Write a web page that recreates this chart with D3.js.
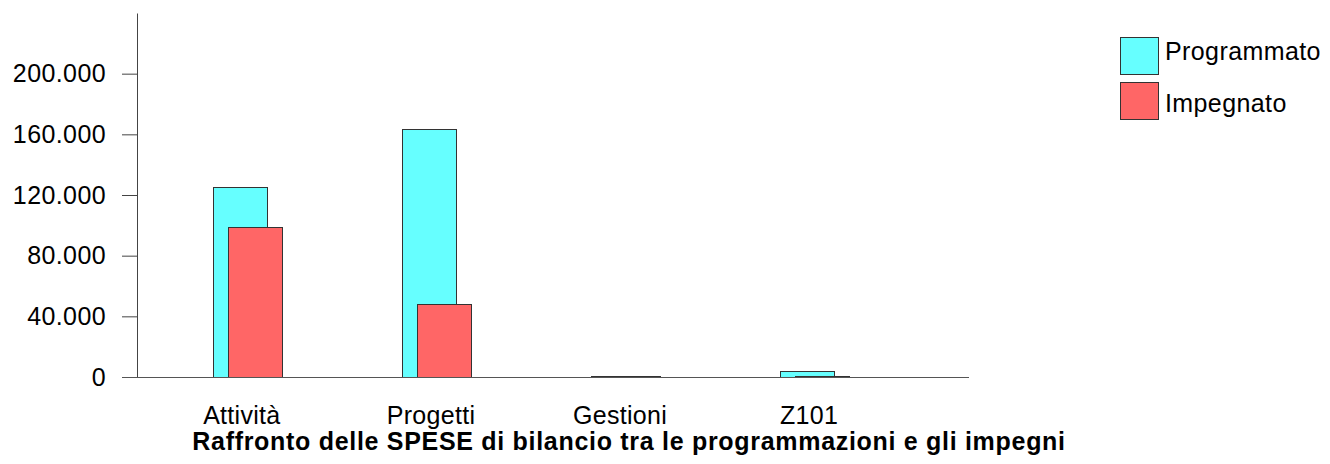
<!DOCTYPE html>
<html>
<head>
<meta charset="utf-8">
<script src="https://cdn.jsdelivr.net/npm/d3@7"></script>
<style>
  body { margin: 0; background: #fff; }
  text { font-family: "Liberation Sans", Arial, sans-serif; fill: #000; }
</style>
</head>
<body>
<div id="chart"></div>
<script>
// categories and values
const categories = ["Attività", "Progetti", "Gestioni", "Z101"]
const programmato = [125400, 163500, 300, 3800]
const impegnato = [99200, 48400, 200, 150]
const yTicks = [0, 40000, 80000, 120000, 160000, 200000]
const seriesNames = ["Programmato", "Impegnato"]
const seriesColors = ["#66ffff", "#ff6666"]

;(function () {
  const margin = { top: 13, right: 361, bottom: 87, left: 137 }
  const width = 1330 - margin.left - margin.right
  const height = 464 - margin.top - margin.bottom

  const svg = d3.select("#chart").append("svg")
      .attr("width", width + margin.left + margin.right)
      .attr("height", height + margin.top + margin.bottom)

  const g = svg.append("g")
      .attr("transform", "translate(" + margin.left + "," + margin.top + ")")

  // italian number format: 200.000
  const it = d3.formatLocale({ decimal: ",", thousands: ".", grouping: [3], currency: ["€", ""] })
  const fmt = it.format(",d")

  const xPositionScale = d3.scaleBand()
    .domain(categories)
    .range([0, width])
    .paddingInner(0)
    .paddingOuter(0.2)
    .align(0.11)

  const yPositionScale = d3.scaleLinear()
    .domain([0, 240000])
    .range([height, 0])

  const barWidth = xPositionScale.step() * 0.286
  const shift = xPositionScale.step() * 0.08

  const rows = categories.map((c, i) => ({ cat: c, values: [programmato[i], impegnato[i]] }))

  // y axis
  const yAxis = d3.axisLeft(yPositionScale)
    .tickValues(yTicks)
    .tickFormat(fmt)
    .tickSizeInner(15)
    .tickSizeOuter(0)
    .tickPadding(16)
  const ya = g.append("g")
    .attr("class", "axis y-axis")
    .call(yAxis)
  ya.selectAll("line, path").attr("stroke", "#444")
  ya.selectAll("text")
    .style("font-size", "25px")
    .style("letter-spacing", "0.4px")
    .style("font-family", "'Liberation Sans', Arial, sans-serif")

  // bars: cyan first, red shifted right and drawn over it
  seriesNames.forEach((name, s) => {
    g.append("g").selectAll("rect")
      .data(rows)
      .join("rect")
      .attr("x", d => Math.round(xPositionScale(d.cat) + xPositionScale.bandwidth() / 2 - barWidth / 2 + s * shift) + 0.5)
      .attr("y", d => Math.min(height - 1, Math.round(yPositionScale(d.values[s]))) + 0.5)
      .attr("width", Math.round(barWidth))
      .attr("height", d => Math.max(1, Math.round(height - yPositionScale(d.values[s]))))
      .attr("fill", seriesColors[s])
      .attr("stroke", "#333")
      .attr("stroke-width", 1)
  })

  // x axis (labels only) and the baseline
  const xAxis = d3.axisBottom(xPositionScale).tickSize(0).tickPadding(29)
  const xa = g.append("g")
    .attr("class", "axis x-axis")
    .attr("transform", "translate(0," + height + ")")
    .call(xAxis)
  xa.select(".domain").remove()
  xa.selectAll("text")
    .attr("dx", 2)
    .style("font-size", "25px")
    .style("letter-spacing", "0.3px")
    .style("font-family", "'Liberation Sans', Arial, sans-serif")

  g.append("line")
    .attr("x1", -15)
    .attr("x2", width)
    .attr("y1", height + 0.5)
    .attr("y2", height + 0.5)
    .attr("stroke", "#555")

  // title
  svg.append("text")
    .attr("x", 629)
    .attr("y", 450)
    .attr("text-anchor", "middle")
    .style("font-size", "25px")
    .style("font-weight", "bold")
    .style("letter-spacing", "0.7px")
    .text("Raffronto delle SPESE di bilancio tra le programmazioni e gli impegni")

  // legend
  const legend = svg.append("g").attr("transform", "translate(1120,37)")
  seriesNames.forEach((name, i) => {
    legend.append("rect")
      .attr("x", 0.5)
      .attr("y", i * 45 + 0.5)
      .attr("width", 38)
      .attr("height", 37)
      .attr("fill", seriesColors[i])
      .attr("stroke", "#333")
    legend.append("text")
      .attr("x", 45)
      .attr("y", i === 0 ? 23 : 75)
      .style("font-size", "25px")
      .style("letter-spacing", "0.4px")
      .text(name)
  })
})()
</script>
</body>
</html>
